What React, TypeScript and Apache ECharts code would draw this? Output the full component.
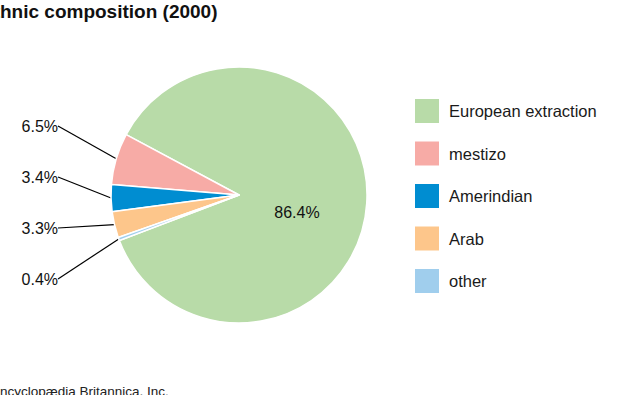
import React, { useEffect, useRef } from "react";
import * as echarts from "echarts";

const categories = ["European extraction", "mestizo", "Amerindian", "Arab", "other"];
const shares = [86.4, 6.5, 3.4, 3.3, 0.4];
const colors = ["#b8dba8", "#f7aba6", "#008dd1", "#fdc68b", "#a0ceed"];
const titleText = "Ethnic composition (2000)";
const footerText = "Encyclopædia Britannica, Inc.";

// label placement (layout only)
const labelSpots: { x: number; y: number; align: string }[] = [
  { x: 297, y: 212, align: "center" },
  { x: 61, y: 126, align: "right" },
  { x: 61, y: 177, align: "right" },
  { x: 61, y: 228, align: "right" },
  { x: 61, y: 279, align: "right" },
];

export default function App() {
  const ref = useRef<HTMLDivElement>(null);
  useEffect(() => {
    if (!ref.current) return;
    const chart = echarts.init(ref.current, undefined, { renderer: "svg" });
    const font = "Liberation Sans, Arial, Helvetica, sans-serif";
    chart.setOption({
      animation: false,
      backgroundColor: "#ffffff",
      textStyle: { fontFamily: font },
      legend: {
        orient: "vertical",
        left: 415,
        top: 99,
        padding: 0,
        itemWidth: 24,
        itemHeight: 24,
        itemGap: 18.5,
        icon: "rect",
        data: categories,
        selectedMode: false,
        textStyle: { fontSize: 16.5, color: "#1a1a1a", fontFamily: font, padding: [0, 0, 0, 5] },
        itemStyle: { borderWidth: 0 },
      },
      graphic: [
        {
          type: "text",
          left: -19,
          top: 2,
          style: { text: titleText, font: `bold 19px ${font}`, fill: "#111" },
        },
        {
          type: "text",
          left: -9,
          top: 384,
          style: { text: footerText, font: `13.5px ${font}`, fill: "#222" },
        },
      ],
      series: [
        {
          type: "pie",
          center: [239, 195],
          radius: [0, 128],
          clockwise: false,
          startAngle: 200.8,
          avoidLabelOverlap: false,
          data: categories.map((name, i) => ({
            name,
            value: shares[i],
            itemStyle: { color: colors[i] },
            label: {
              show: true,
              position: i === 0 ? "inside" : "outside",
              padding: i === 0 ? 0 : [0, 3, 0, 0],
            },
            labelLine: { show: i !== 0 },
          })),
          itemStyle: { borderColor: "#ffffff", borderWidth: 1.5 },
          label: {
            formatter: (p: any) => `${p.value.toFixed(1)}%`,
            fontSize: 16,
            color: "#111",
            fontFamily: font,
          },
          labelLine: {
            length: 0,
            length2: 0,
            lineStyle: { color: "#000", width: 1.2 },
          },
          labelLayout: (p: any) => {
            const s = labelSpots[p.dataIndex];
            return { x: s.x, y: s.y, align: s.align, verticalAlign: "middle" };
          },
          emphasis: { disabled: true },
        },
      ],
    });
    return () => chart.dispose();
  }, []);
  return (
    <div
      ref={ref}
      style={{ position: "fixed", left: 0, top: 0, width: 625, height: 395 }}
    />
  );
}
